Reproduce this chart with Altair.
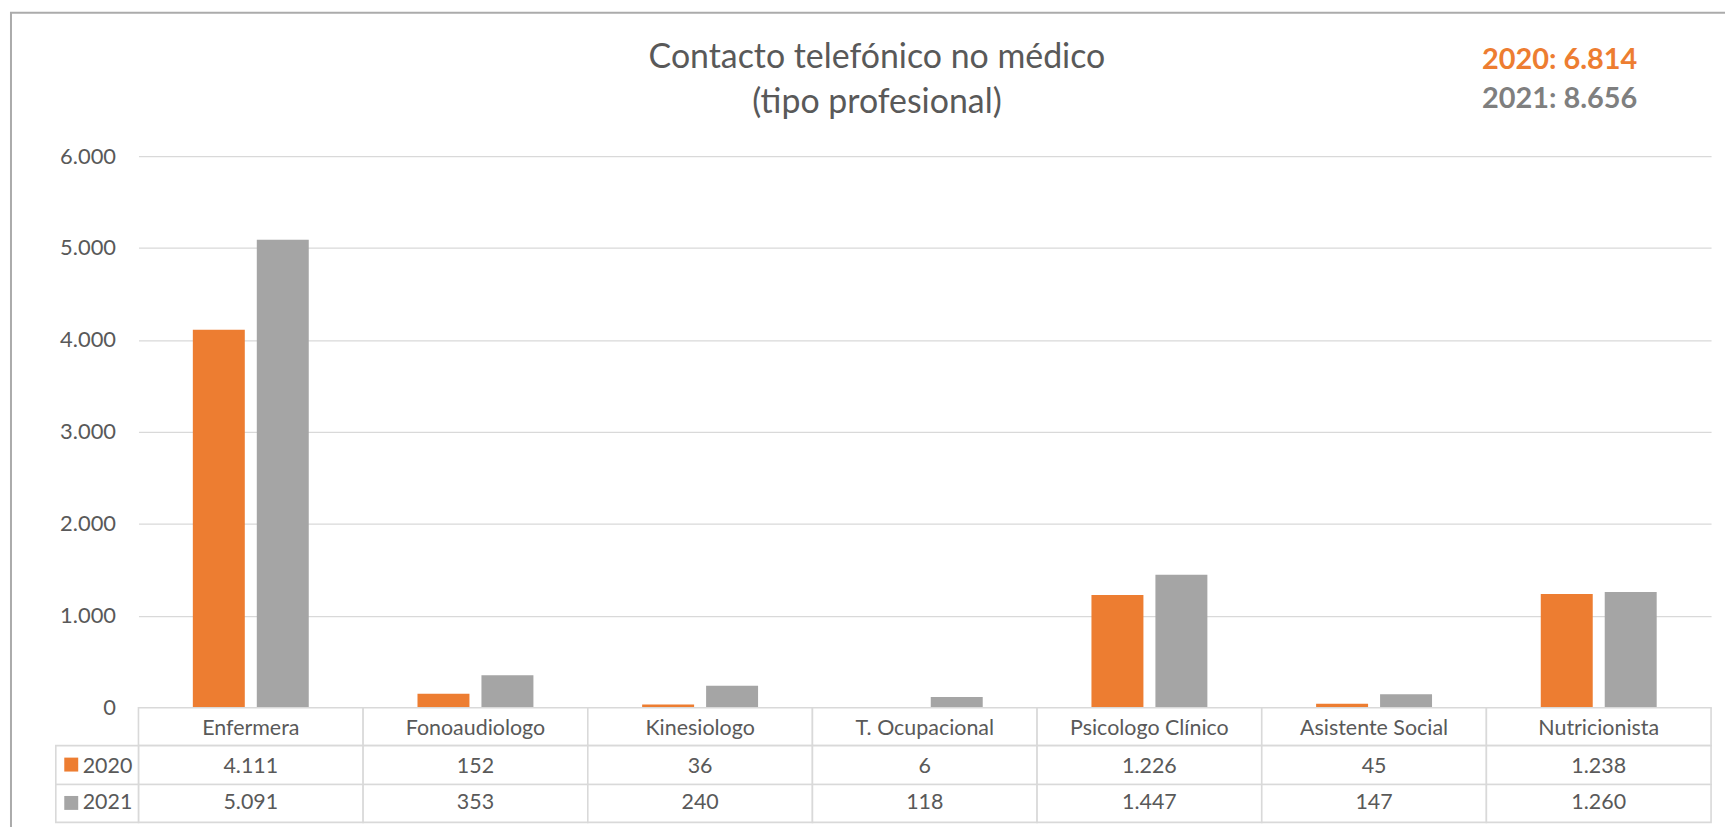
import altair as alt
import pandas as pd

categories = ["Enfermera", "Fonoaudiologo", "Kinesiologo", "T. Ocupacional",
              "Psicologo Clínico", "Asistente Social", "Nutricionista"]
years = ["2020", "2021"]
values_2020 = [4111, 152, 36, 6, 1226, 45, 1238]
values_2021 = [5091, 353, 240, 118, 1447, 147, 1260]
colors = ["#ED7D31", "#A5A5A5"]
total_colors = ["#ED7D31", "#7F7F7F"]
y_ticks = [0, 1000, 2000, 3000, 4000, 5000, 6000]
title_lines = ["Contacto telefónico no médico", "(tipo profesional)"]

FONT = "Lato"
TXT = "#595959"
BORDER = "#D9D9D9"
W, H = 1579, 554
TFS = 21.5


def fmt(v):
    return f"{v:,}".replace(",", ".")


rows = []
for yr, vals in zip(years, [values_2020, values_2021]):
    for c, v in zip(categories, vals):
        rows.append({"categoria": c, "anio": yr, "valor": v, "etiqueta": fmt(v)})
df = pd.DataFrame(rows)
hdr = pd.DataFrame({"categoria": categories})
one = pd.DataFrame({"k": [0]})

xscale = alt.Scale(domain=categories, paddingInner=0, paddingOuter=0)
cscale = alt.Scale(domain=years, range=colors)
X = alt.X("categoria:N", scale=xscale, axis=None, title=None)

bars = alt.Chart(df).mark_bar().encode(
    x=X,
    xOffset=alt.XOffset("anio:N", scale=alt.Scale(domain=years, paddingInner=0.1875, paddingOuter=0.85)),
    y=alt.Y("valor:Q", scale=alt.Scale(domain=[0, 6000], nice=False),
            axis=alt.Axis(values=y_ticks, title=None, domain=False, ticks=False,
                          grid=True, gridColor=BORDER, gridWidth=1.3,
                          labelPadding=23, labelFont=FONT, labelFontSize=22,
                          labelColor=TXT,
                          labelExpr="replace(format(datum.value, ',.0f'), ',', '.')")),
    color=alt.Color("anio:N", scale=cscale, legend=None),
)

layers = [bars]

# header row of the data table
layers.append(alt.Chart(hdr).mark_rect(fill="white", stroke=BORDER, strokeWidth=1.6).encode(
    x=X, y=alt.value(554), y2=alt.value(592)))
layers.append(alt.Chart(hdr).mark_text(font=FONT, fontSize=TFS, color=TXT, baseline="alphabetic").encode(
    x=X, text="categoria:N", y=alt.value(581)))

row_top = {"2020": 592, "2021": 631}
row_bot = {"2020": 631, "2021": 669}
row_base = {"2020": 619, "2021": 656}
for yr in years:
    sub = df[df["anio"] == yr]
    layers.append(alt.Chart(sub).mark_rect(fill="white", stroke=BORDER, strokeWidth=1.6).encode(
        x=X, y=alt.value(row_top[yr]), y2=alt.value(row_bot[yr])))
    layers.append(alt.Chart(sub).mark_text(font=FONT, fontSize=TFS, color=TXT, baseline="alphabetic").encode(
        x=X, text="etiqueta:N", y=alt.value(row_base[yr])))
    leg = pd.DataFrame({"anio": [yr]})
    layers.append(alt.Chart(leg).mark_rect(fill="white", stroke=BORDER, strokeWidth=1.6).encode(
        x=alt.value(-83), x2=alt.value(0), y=alt.value(row_top[yr]), y2=alt.value(row_bot[yr])))
    layers.append(alt.Chart(leg).mark_square(size=196, opacity=1).encode(
        x=alt.value(-67.5), y=alt.value((row_top[yr] + row_bot[yr]) / 2 - 0.5),
        color=alt.Color("anio:N", scale=cscale, legend=None)))
    layers.append(alt.Chart(leg).mark_text(font=FONT, fontSize=TFS, color=TXT, align="left",
                                           baseline="alphabetic").encode(
        x=alt.value(-56), y=alt.value(row_base[yr]), text="anio:N"))

# title
for line, yb in zip(title_lines, [-88, -43]):
    layers.append(alt.Chart(one).mark_text(text=line, font=FONT, fontSize=34, color=TXT,
                                           align="center", baseline="alphabetic").encode(
        x=alt.value(741.5), y=alt.value(yb)))

# totals annotation
for yr, vals, col, yb in zip(years, [values_2020, values_2021], total_colors, [-87, -48]):
    layers.append(alt.Chart(one).mark_text(text=f"{yr}: {fmt(sum(vals))}", font=FONT, fontSize=29,
                                           fontWeight="bold", color=col, align="left",
                                           baseline="alphabetic").encode(
        x=alt.value(1349), y=alt.value(yb)))

# chart area border
layers.append(alt.Chart(one).mark_rule(color="#ABABAB", strokeWidth=2).encode(
    x=alt.value(-128), y=alt.value(-144), y2=alt.value(700)))
layers.append(alt.Chart(one).mark_rule(color="#ABABAB", strokeWidth=2).encode(
    x=alt.value(-129), x2=alt.value(1620), y=alt.value(-144)))

chart = alt.layer(*layers).properties(
    width=W, height=H, autosize="none",
    padding={"left": 131, "top": 147, "right": 14, "bottom": 118},
    background="white",
).configure_view(stroke=None)

chart.save("out.html", embed_options={"renderer": "svg", "actions": False})
